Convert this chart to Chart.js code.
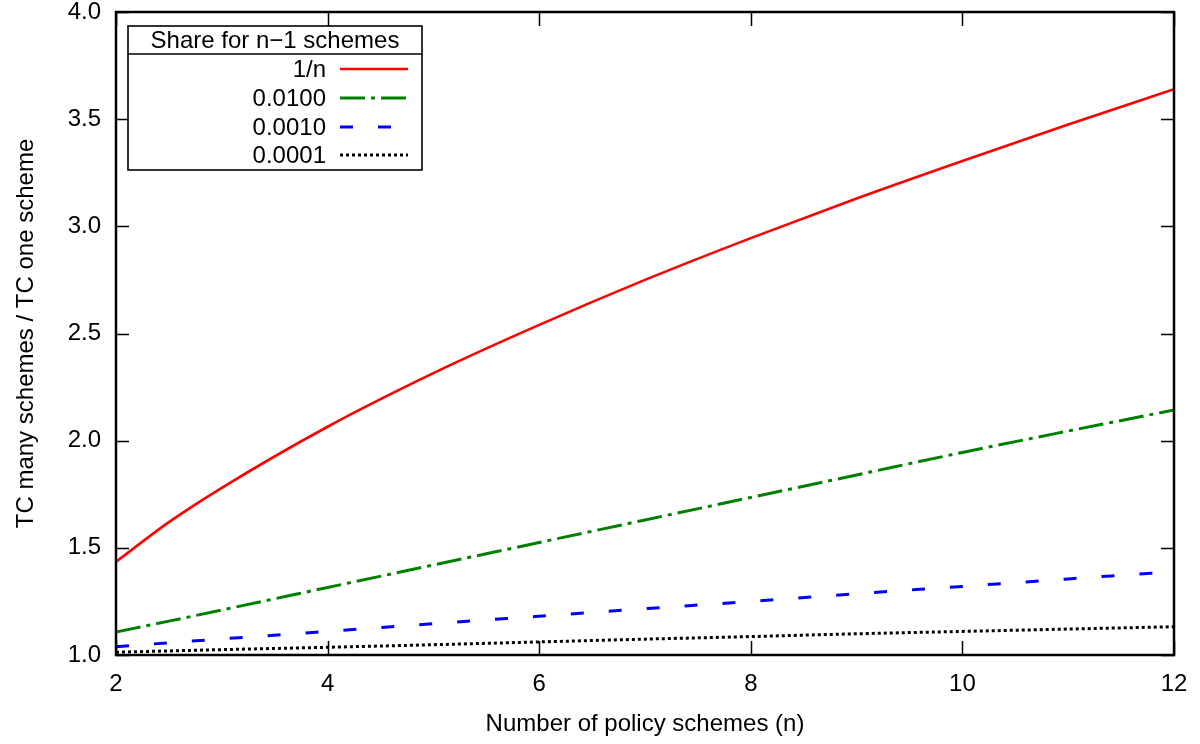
<!DOCTYPE html>
<html>
<head>
<meta charset="utf-8">
<script src="https://cdn.jsdelivr.net/npm/chart.js@4/dist/chart.umd.min.js"></script>
<style>
  html, body { margin: 0; padding: 0; background: #ffffff; }
  #wrap { width: 1200px; height: 744px; }
</style>
</head>
<body>
<div id="wrap"><canvas id="c" width="1200" height="744"></canvas></div>
<script>
// ---- data ----
const nValues = [2, 2.5, 3, 4, 5, 6, 7, 8, 9, 10, 11, 12];
const seriesOneOverN = [1.435, 1.62, 1.78, 2.065, 2.315, 2.54, 2.75, 2.945, 3.13, 3.305, 3.475, 3.64];
const series0100 = [1.107, 1.158, 1.21, 1.315, 1.42, 1.525, 1.63, 1.735, 1.84, 1.945, 2.045, 2.143];
const series0010 = [1.039, 1.057, 1.075, 1.11, 1.146, 1.181, 1.216, 1.25, 1.286, 1.32, 1.355, 1.389];
const series0001 = [1.013, 1.019, 1.025, 1.036, 1.048, 1.061, 1.074, 1.086, 1.099, 1.11, 1.121, 1.132];
const seriesLabels = ['1/n', '0.0100', '0.0010', '0.0001'];
const legendTitle = 'Share for n\u22121 schemes';
const xTitle = 'Number of policy schemes (n)';
const yTitle = 'TC many schemes / TC one scheme';
const xTicks = [2, 4, 6, 8, 10, 12];
const yTicks = [1.0, 1.5, 2.0, 2.5, 3.0, 3.5, 4.0];

const FONT = 'Liberation Sans, Arial, Helvetica, sans-serif';
const FS = 24;

function pts(ys) { return nValues.map((n, i) => ({ x: n, y: ys[i] })); }

const datasets = [
  { label: seriesLabels[0], data: pts(seriesOneOverN), borderColor: '#ff0000', borderWidth: 2.6, borderDash: [], cubicInterpolationMode: 'monotone' },
  { label: seriesLabels[1], data: pts(series0100), borderColor: '#008000', borderWidth: 3, borderDash: [25, 6, 4, 6], cubicInterpolationMode: 'monotone' },
  { label: seriesLabels[2], data: pts(series0010), borderColor: '#0000ff', borderWidth: 3, borderDash: [13, 25], cubicInterpolationMode: 'monotone' },
  { label: seriesLabels[3], data: pts(series0001), borderColor: '#000000', borderWidth: 3, borderDash: [3, 3], cubicInterpolationMode: 'monotone' }
].map(d => Object.assign(d, { pointRadius: 0, fill: false, borderCapStyle: 'butt', backgroundColor: d.borderColor }));

const framePlugin = {
  id: 'frame',
  afterDatasetsDraw(chart) {
    const { ctx, chartArea: a, scales } = chart;
    const xs = scales.x, ys = scales.y;
    ctx.save();
    ctx.strokeStyle = '#000';
    ctx.lineWidth = 1.5;
    const tlx = 14, tly = 13;
    ctx.beginPath();
    xTicks.forEach(v => {
      const px = Math.round(xs.getPixelForValue(v)) + 0.5;
      ctx.moveTo(px, a.bottom); ctx.lineTo(px, a.bottom - tlx);
      ctx.moveTo(px, a.top); ctx.lineTo(px, a.top + tlx);
    });
    yTicks.forEach(v => {
      const py = Math.round(ys.getPixelForValue(v)) + 0.5;
      ctx.moveTo(a.left, py); ctx.lineTo(a.left + tly, py);
      ctx.moveTo(a.right, py); ctx.lineTo(a.right - tly, py);
    });
    ctx.stroke();
    ctx.lineWidth = 2.5;
    ctx.strokeRect(a.left, a.top, a.right - a.left, a.bottom - a.top);

    // legend box
    const L = 128, R = 422, T = 26, B = 170, sep = 54;
    ctx.fillStyle = '#fff';
    ctx.fillRect(L, T, R - L, B - T);
    ctx.lineWidth = 1.6;
    ctx.strokeRect(L, T, R - L, B - T);
    ctx.beginPath(); ctx.moveTo(L, sep); ctx.lineTo(R, sep); ctx.stroke();
    ctx.fillStyle = '#000';
    ctx.font = FS + 'px ' + FONT;
    ctx.textBaseline = 'middle';
    ctx.textAlign = 'center';
    ctx.fillText(legendTitle, (L + R) / 2, 41);
    const rows = [69, 98, 127, 155];
    chart.data.datasets.forEach((d, i) => {
      ctx.textAlign = 'right';
      ctx.fillStyle = '#000';
      ctx.fillText(d.label, 326, rows[i] + 1);
      ctx.beginPath();
      ctx.strokeStyle = d.borderColor;
      ctx.lineWidth = d.borderWidth;
      ctx.lineCap = 'butt';
      ctx.setLineDash(d.borderDash || []);
      ctx.moveTo(340, rows[i]); ctx.lineTo(408, rows[i]);
      ctx.stroke();
      ctx.setLineDash([]);
    });
    ctx.restore();
  }
};

new Chart(document.getElementById('c'), {
  type: 'line',
  data: { datasets },
  options: {
    responsive: false,
    animation: false,
    devicePixelRatio: 1,
    layout: { padding: { top: 12, right: 26, left: 0, bottom: 0 } },
    plugins: { legend: { display: false }, tooltip: { enabled: false } },
    scales: {
      x: {
        type: 'linear', min: 2, max: 12,
        afterBuildTicks: s => { s.ticks = xTicks.map(v => ({ value: v })); },
        afterFit: s => { s.height = 89; s.paddingLeft = 0; s.paddingRight = 0; },
        grid: { display: false, drawTicks: false },
        border: { display: false },
        ticks: { padding: 15, color: '#000', font: { family: FONT, size: FS }, maxRotation: 0, autoSkip: false },
        title: { display: true, text: xTitle, color: '#000', font: { family: FONT, size: FS }, padding: { top: 0, bottom: 5 } }
      },
      y: {
        type: 'linear', min: 1, max: 4,
        afterBuildTicks: s => { s.ticks = yTicks.map(v => ({ value: v })); },
        afterFit: s => { s.width = 116; s.paddingTop = 0; s.paddingBottom = 0; },
        grid: { display: false, drawTicks: false },
        border: { display: false },
        ticks: { padding: 15, color: '#000', font: { family: FONT, size: FS }, callback: v => Number(v).toFixed(1), autoSkip: false },
        title: { display: true, text: yTitle, color: '#000', font: { family: FONT, size: FS }, padding: { top: 12, bottom: 0 } }
      }
    }
  },
  plugins: [framePlugin]
});
</script>
</body>
</html>
